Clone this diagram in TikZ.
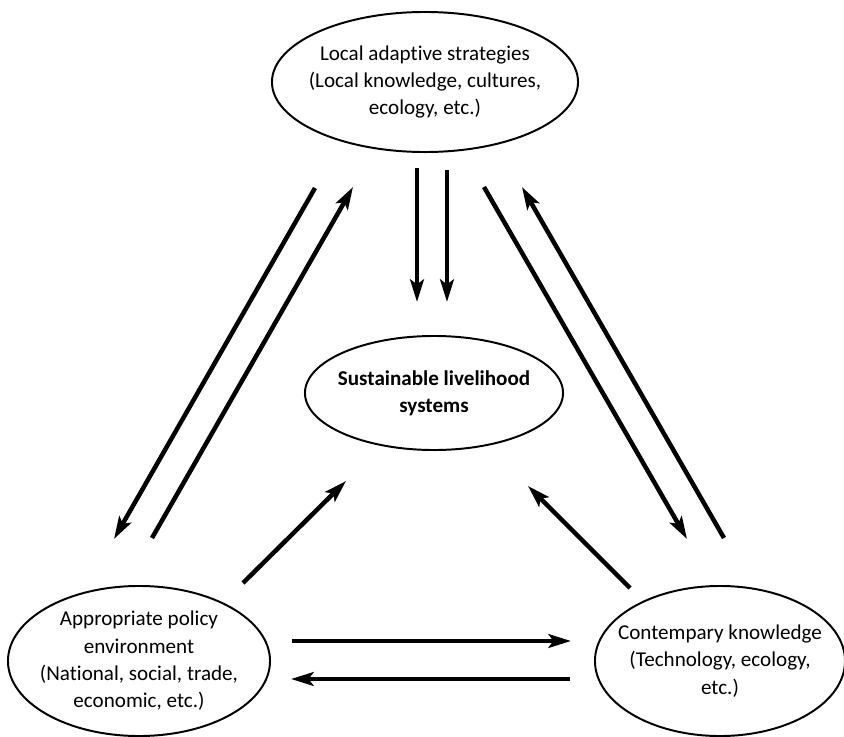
\documentclass[tikz,border=0pt]{standalone}
\usepackage{fontspec}
\setmainfont{Carlito}[Ligatures={NoCommon,NoRare},Contextuals={NoAlternate}]
\usetikzlibrary{arrows.meta,shapes.geometric}
\tikzset{
  bubble/.style={ellipse,draw=black,line width=1.4pt,align=center,inner sep=-14pt,
    font=\fontsize{15}{19.5}\selectfont},
  flow/.style={-{Stealth[length=5.6mm,width=3.4mm,inset=1.2mm]},line width=3.2pt,black}
}

\begin{document}
\begin{tikzpicture}[x=0.025cm,y=-0.025cm]
  \useasboundingbox (0,0) rectangle (844,737);

  % the four fields
  \node[bubble,minimum width=7.65cm,minimum height=3.5cm] (local) at (425,82)
    {Local adaptive strategies\\(Local knowledge, cultures,\\ecology, etc.)};
  \node[bubble,minimum width=6.45cm,minimum height=2.85cm,font=\fontsize{15}{19.5}\selectfont\bfseries] (slh) at (434,393)
    {Sustainable livelihood\\systems};
  \node[bubble,minimum width=6.55cm,minimum height=3.75cm] (policy) at (139,661)
    {Appropriate policy\\environment\\(National, social, trade,\\economic, etc.)};
  \node[bubble,minimum width=6.25cm,minimum height=3.75cm] (modern) at (720,661)
    {Contempary knowledge\\(Technology, ecology,\\etc.)};

  % free ends of the links
  \coordinate (ld1) at (417,168);  \coordinate (ld2) at (417,302);
  \coordinate (ld3) at (447,170);  \coordinate (ld4) at (447,302);
  \coordinate (lp1) at (315,188);  \coordinate (lp2) at (114,539);
  \coordinate (pl1) at (152,538);  \coordinate (pl2) at (353,187);
  \coordinate (lm1) at (484,187);  \coordinate (lm2) at (687,539);
  \coordinate (ml1) at (724,538);  \coordinate (ml2) at (522,187);
  \coordinate (ps1) at (243,583);  \coordinate (ps2) at (346,481);
  \coordinate (ms1) at (630,588);  \coordinate (ms2) at (528,486);
  \coordinate (pm1) at (292,641);  \coordinate (pm2) at (571,641);
  \coordinate (mp1) at (570,679);  \coordinate (mp2) at (291,679);

  \draw[flow] (ld1) -- (ld2);
  \draw[flow] (ld3) -- (ld4);
  \draw[flow] (lp1) -- (lp2);
  \draw[flow] (pl1) -- (pl2);
  \draw[flow] (lm1) -- (lm2);
  \draw[flow] (ml1) -- (ml2);
  \draw[flow] (ps1) -- (ps2);
  \draw[flow] (ms1) -- (ms2);
  \draw[flow] (pm1) -- (pm2);
  \draw[flow] (mp1) -- (mp2);
\end{tikzpicture}
\end{document}
